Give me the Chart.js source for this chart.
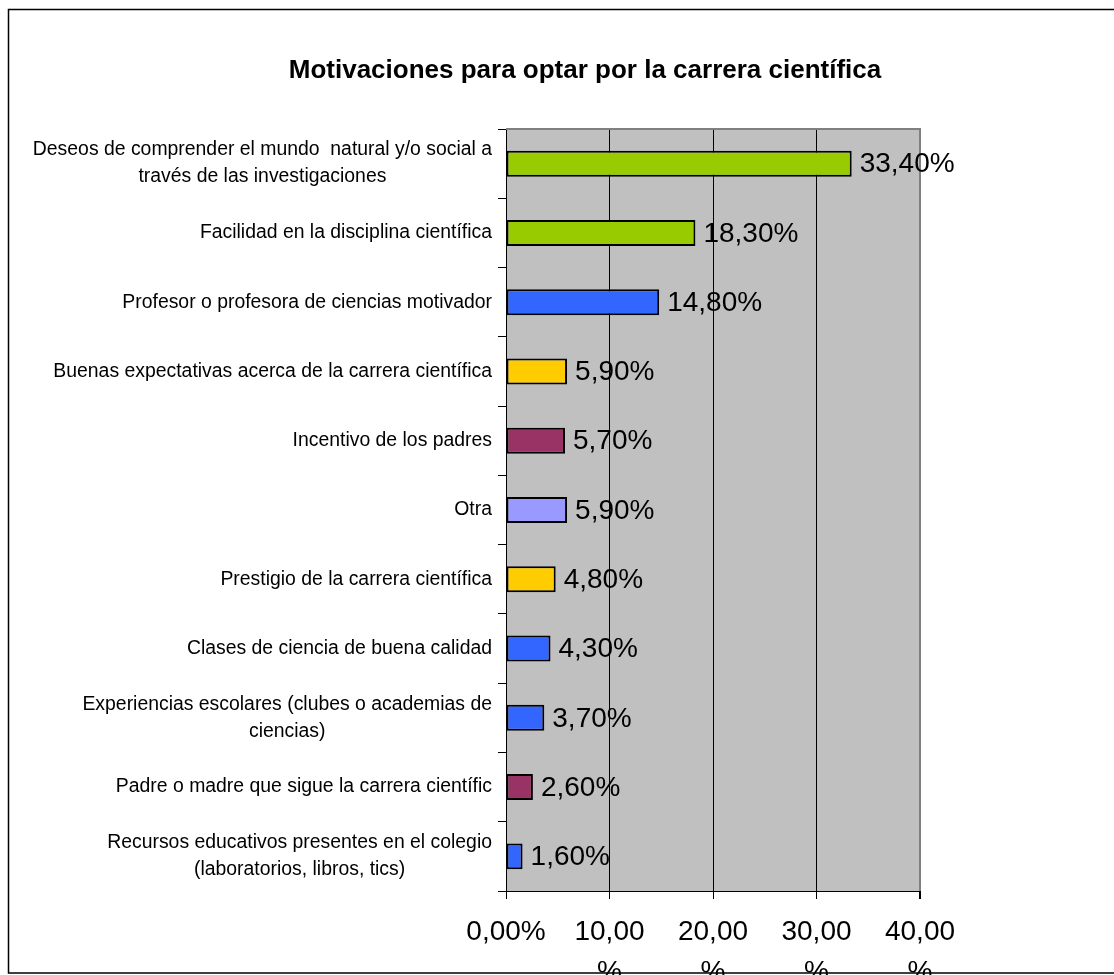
<!DOCTYPE html>
<html>
<head>
<meta charset="utf-8">
<script src="https://cdn.jsdelivr.net/npm/chart.js@4"></script>
<style>
  html, body { margin: 0; padding: 0; background: #fff; }
  #wrap { width: 1114px; height: 975px; position: relative; }
</style>
</head>
<body>
<div id="wrap"><canvas id="c"></canvas></div>
<script>
// Survey answers, top to bottom as listed in the chart
const categories = [
  ["Deseos de comprender el mundo  natural y/o social a", "través de las investigaciones"],
  "Facilidad en la disciplina científica",
  "Profesor o profesora de ciencias motivador",
  "Buenas expectativas acerca de la carrera científica",
  "Incentivo de los padres",
  "Otra",
  "Prestigio de la carrera científica",
  "Clases de ciencia de buena calidad",
  ["Experiencias escolares (clubes o academias de", "ciencias)"],
  "Padre o madre que sigue la carrera científic",
  ["Recursos educativos presentes en el colegio", "(laboratorios, libros, tics)"]
];
const percentages = [33.4, 18.3, 14.8, 5.9, 5.7, 5.9, 4.8, 4.3, 3.7, 2.6, 1.6];
const barColors = [
  "#99CC00", "#99CC00", "#3366FF", "#FFCC00", "#993366", "#9999FF",
  "#FFCC00", "#3366FF", "#3366FF", "#993366", "#3366FF"
];
const xTickLabels = [["0,00%"], ["10,00", "%"], ["20,00", "%"], ["30,00", "%"], ["40,00", "%"]];
const chartTitle = "Motivaciones para optar por la carrera científica";

const FONT = "'Liberation Sans', Arial, sans-serif";
const CAT_FONT_SIZE = 19.4;
const CAT_LINE = 27;
const fmtPct = v => v.toFixed(2).replace(".", ",") + "%";

// Gray plot background and white page
const plotBackground = {
  id: "plotBackground",
  beforeDraw(chart) {
    const { ctx, chartArea: a } = chart;
    ctx.save();
    ctx.fillStyle = "#fff";
    ctx.fillRect(0, 0, chart.width, chart.height);
    ctx.fillStyle = "#C0C0C0";
    ctx.fillRect(a.left, a.top, a.right - a.left, a.bottom - a.top);
    ctx.restore();
  }
};

// Category labels: right-aligned blocks whose wrapped lines are centred on each other
const categoryLabels = {
  id: "categoryLabels",
  afterDraw(chart) {
    const { ctx } = chart;
    const y = chart.scales.y;
    const right = y.right - 8 - 6;
    ctx.save();
    ctx.font = CAT_FONT_SIZE + "px " + FONT;
    ctx.fillStyle = "#000";
    ctx.textAlign = "center";
    ctx.textBaseline = "middle";
    categories.forEach((lab, i) => {
      const lines = Array.isArray(lab) ? lab : [lab];
      const w = Math.max(...lines.map(l => ctx.measureText(l).width));
      const cx = right - w / 2;
      const cy = y.getPixelForTick(i);
      lines.forEach((l, k) => {
        ctx.fillText(l, cx, cy + (k - (lines.length - 1) / 2) * CAT_LINE);
      });
    });
    ctx.restore();
  }
};

// Value labels at the end of each bar, title and outer frame
const decorations = {
  id: "decorations",
  afterDatasetsDraw(chart) {
    const { ctx } = chart;
    const meta = chart.getDatasetMeta(0);
    ctx.save();
    ctx.font = "28px " + FONT;
    ctx.fillStyle = "#000";
    ctx.textAlign = "left";
    ctx.textBaseline = "middle";
    meta.data.forEach((bar, i) => {
      ctx.fillText(fmtPct(percentages[i]), bar.x + 8, bar.y + 1);
    });
    ctx.restore();
  },
  afterDraw(chart) {
    const { ctx, chartArea: a } = chart;
    ctx.save();
    // top edge of plot area
    ctx.strokeStyle = "#808080";
    ctx.lineWidth = 2;
    ctx.beginPath();
    ctx.moveTo(a.left, a.top);
    ctx.lineTo(a.right + 1, a.top);
    ctx.stroke();
    // title
    ctx.font = "bold 26px " + FONT;
    ctx.fillStyle = "#000";
    ctx.textAlign = "center";
    ctx.textBaseline = "middle";
    ctx.fillText(chartTitle, 585, 71);
    // outer chart frame
    ctx.strokeStyle = "#000";
    ctx.lineWidth = 1.5;
    ctx.strokeRect(8.5, 9.5, 1300, 963.5);
    ctx.restore();
  }
};

new Chart(document.getElementById("c"), {
  type: "bar",
  data: {
    labels: categories,
    datasets: [{
      data: percentages,
      backgroundColor: barColors,
      borderColor: "#000",
      borderWidth: 2,
      borderSkipped: false,
      categoryPercentage: 1,
      barPercentage: 0.375
    }]
  },
  options: {
    indexAxis: "y",
    responsive: true,
    maintainAspectRatio: false,
    animation: false,
    layout: { padding: { left: 0, top: 129, right: 194, bottom: 0 } },
    plugins: {
      legend: { display: false },
      title: { display: false },
      tooltip: { enabled: false }
    },
    scales: {
      x: {
        type: "linear",
        min: 0,
        max: 40,
        afterFit(scale) { scale.height = 84; },
        border: { display: true, color: "#000", width: 1 },
        grid: {
          color: ctx => ctx.index === 4 ? "#808080" : "#000",
          lineWidth: ctx => ctx.index === 4 ? 2 : 1,
          tickColor: "#000",
          tickLength: 8
        },
        ticks: {
          stepSize: 10,
          autoSkip: false,
          maxRotation: 0,
          padding: 14,
          color: "#000",
          font: { family: FONT, size: 28, lineHeight: 1.4 },
          callback: (v, i) => xTickLabels[i]
        }
      },
      y: {
        afterFit(scale) { scale.width = 506; },
        border: { display: true, color: "#000", width: 1 },
        grid: {
          display: true,
          drawOnChartArea: false,
          offset: true,
          color: "#000",
          tickLength: 8
        },
        ticks: {
          autoSkip: false,
          padding: 6,
          color: "rgba(0,0,0,0)",
          font: { family: FONT, size: CAT_FONT_SIZE, lineHeight: CAT_LINE / CAT_FONT_SIZE }
        }
      }
    }
  },
  plugins: [plotBackground, categoryLabels, decorations]
});
</script>
</body>
</html>
